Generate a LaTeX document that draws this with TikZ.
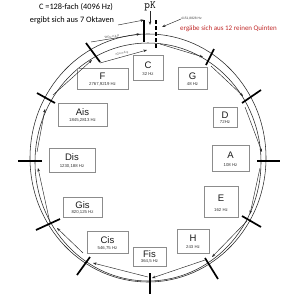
\documentclass[tikz,border=0pt]{standalone}
\usepackage{fontspec}
\newfontfamily\arial{Liberation Sans}
\newfontfamily\calib{Carlito}
\usetikzlibrary{arrows.meta,calc}
\definecolor{redtxt}{RGB}{192,40,40}
\newcommand\nbox[7]{%
  \pgfmathsetmacro\bw{#4-#2}\pgfmathsetmacro\bh{#5-#3}%
  \node[nb,minimum width=\bw pt,minimum height=\bh pt] (#1) at ({(#2+#4)/2},{(#3+#5)/2}) {};
  \node[nm] (#1n) at ($(#1.north)!0.40!(#1.south)$) {#6};
  \node[fq] (#1f) at ($(#1.north)!0.76!(#1.south)$) {#7};}
\begin{document}
\begin{tikzpicture}[x=1pt,y=-1pt,
 nb/.style={draw=black!45,line width=0.5pt,rectangle,inner sep=0pt},
 nm/.style={font=\arial\fontsize{9.5}{9.5}\selectfont,text=black!90,inner sep=0pt},
 fq/.style={font=\arial\fontsize{4.3}{4.3}\selectfont,text=black!80,inner sep=0pt},
 tk/.style={line width=1.7pt,black},
 ar/.style={draw=black!85,line width=0.45pt,-{Stealth[length=3.5pt,width=2.6pt]}},
 rim/.style={draw=black!85,line width=0.55pt}]
\useasboundingbox (0,0) rectangle (300,300);
% spiral rims
\draw[rim] (148,158) ellipse [x radius=118pt, y radius=124pt];
\draw[rim] (148,162) ellipse [x radius=113pt, y radius=119pt];
% note boxes
\nbox{C}{133}{55}{163}{80}{C}{32 Hz}
\nbox{G}{178}{67}{207}{89}{G}{48 Hz}
\nbox{D}{213}{107}{237}{127}{D}{72Hz}
\nbox{A}{212}{145}{249}{171}{A}{108 Hz}
\nbox{E}{204}{186}{238}{217}{E}{162 Hz}
\nbox{H}{177}{229}{209}{253}{H}{243 Hz}
\nbox{Fis}{133}{247}{166}{266}{Fis}{364,5 Hz}
\nbox{Cis}{87}{231}{128}{253}{Cis}{546,75 Hz}
\nbox{Gis}{63}{197}{102}{217}{Gis}{820,125 Hz}
\nbox{Dis}{49}{148}{95}{172}{Dis}{1230,188 Hz}
\nbox{Ais}{58}{103}{107}{126}{Ais}{1845,2813 Hz}
\nbox{F}{77}{68}{128}{89}{F}{2767,9219 Hz}
% ticks
\foreach \n/\xa/\ya/\xb/\yb in {tC/144/20/144/42, tG/206/65/214/49, tD/242/103/261/90,
  tA/257/161/280/161, tE/242/216/261/227, tH/205/258/218/279, tFis/150/273/150/294,
  tCis/90/257/77/275, tGis/60/219/36/230, tDis/42/161/18/161, tAis/55/103/37/93, tF/100/62/86/43}{
  \coordinate (\n1) at (\xa,\ya); \coordinate (\n2) at (\xb,\yb);
  \draw[tk] (\n1) -- (\n2);}
\coordinate (tCd1) at (156,20); \coordinate (tCd2) at (156,48);
\draw[tk,dash pattern=on 4pt off 2pt] (tCd1) -- (tCd2);
% fifth arrows
\foreach \n/\xa/\ya/\xb/\yb in {aCG/160/44/203/57, aGD/211/66/243/96, aDA/245/107/262/152,
  aAE/260/168/250/214, aEH/247/221/212/257, aHF/205/260/152/278, aFC/148/277/93/263,
  aCG2/83/253/57/228, aGD2/50/223/38/168, aDA2/37/152/45/109, aAF/53/95/92/60, aFC2/100/63/147/50}{
  \coordinate (\n s) at (\xa,\ya); \coordinate (\n e) at (\xb,\yb);
  \draw[ar] (\n s) -- (\n e);}
% upper small arrow
\coordinate (wGs) at (91,42); \coordinate (wGe) at (140,34);
\draw[ar] (wGs) -- (wGe);
\node[font=\arial\fontsize{3}{3}\selectfont,text=black!70,rotate=9,inner sep=0pt] (wGl) at (112,37) {WGu-n-k-p};
\node[font=\arial\fontsize{3}{3}\selectfont,text=black!70,rotate=13,inner sep=0pt] (rGl) at (122,53.5) {rGu-n-k-p};
% top labels
\node[font=\calib\fontsize{8.3}{8.3}\selectfont,inner sep=0pt] (lab1) at (76,7) {C =128-fach (4096 Hz)};
\node[font=\calib\fontsize{8.3}{8.3}\selectfont,inner sep=0pt] (lab2) at (72,20) {ergibt sich aus 7 Oktaven};
\coordinate (l2e) at (118,25);
\draw[ar] (l2e) -- (tC1);
\node[font=\ttfamily\fontsize{11}{11}\selectfont,inner sep=0pt] (pk) at (150,6) {pK};
\coordinate (pke) at (150,25);
\draw[ar,line width=0.7pt] (pk.south) -- (pke);
\node[font=\arial\fontsize{3.3}{3.3}\selectfont,text=black!75,inner sep=0pt,anchor=west] (qz) at (181,19) {4151,8828 Hz};
\coordinate (qze) at (162,27);
\draw[ar] (qz.west) -- (qze);
\node[font=\calib\fontsize{7}{7}\selectfont,text=redtxt,inner sep=0pt,anchor=west] (red) at (180,29) {ergäbe sich aus 12 reinen Quinten};
\end{tikzpicture}
\end{document}
